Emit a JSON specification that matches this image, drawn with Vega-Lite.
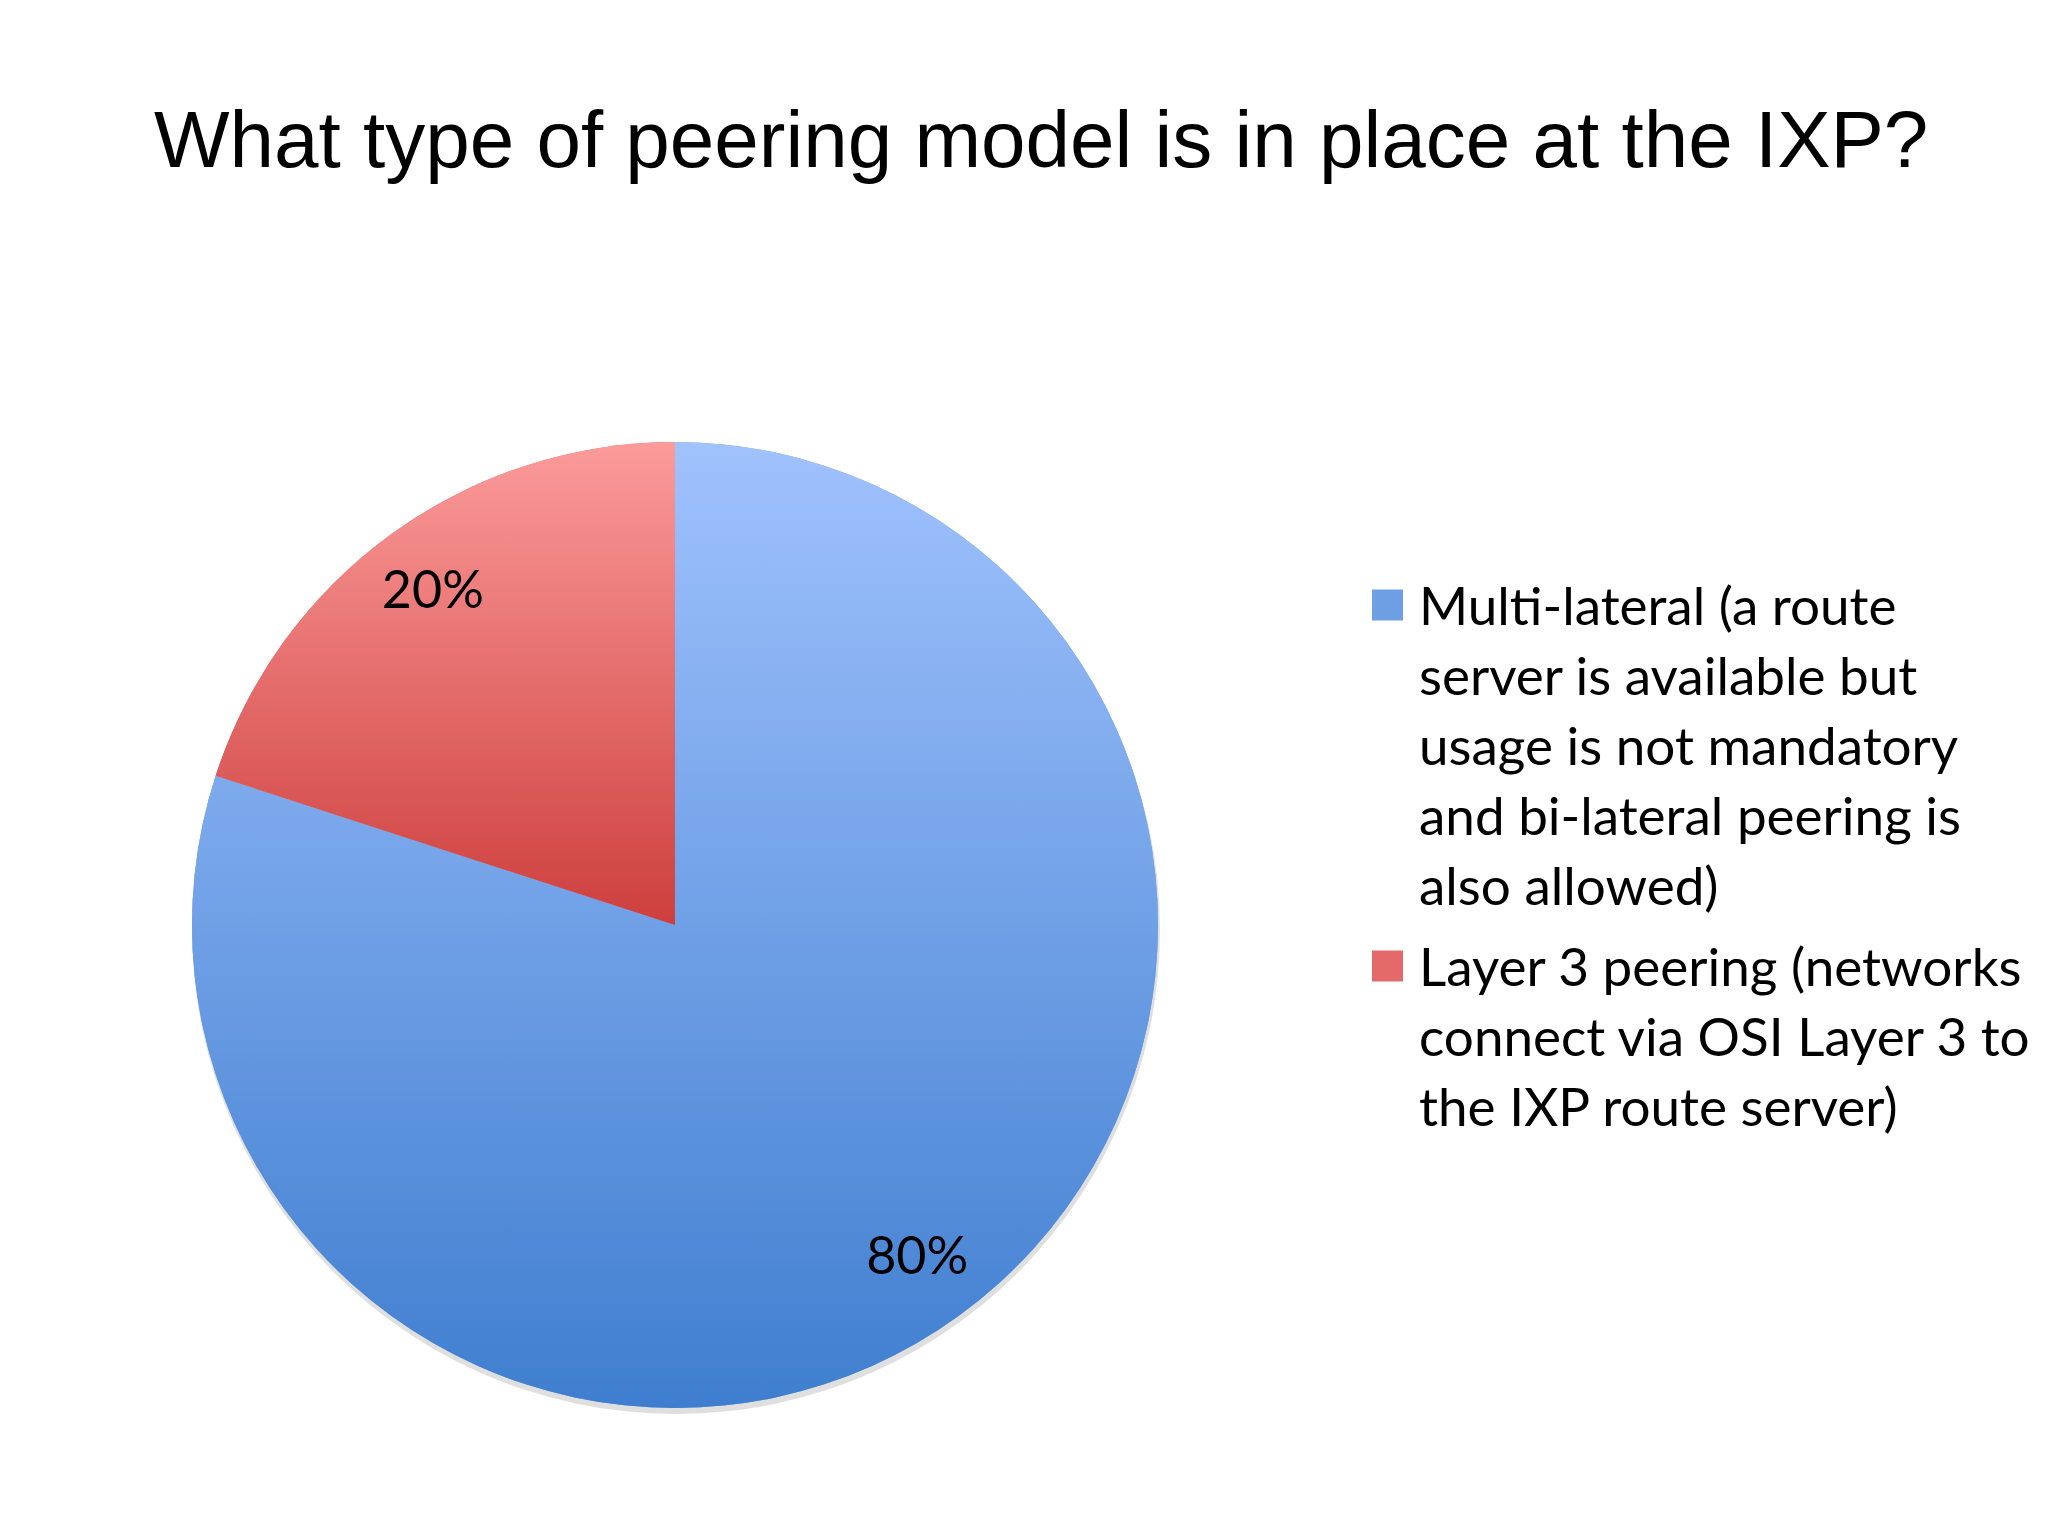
{
  "$schema": "https://vega.github.io/schema/vega-lite/v6.json",
  "width": 1350,
  "height": 1100,
  "autosize": {"type": "none"},
  "padding": {"left": 0, "top": 375, "right": 698, "bottom": 61},
  "background": "white",
  "title": {
    "text": "What type of peering model is in place at the IXP?",
    "anchor": "start",
    "frame": "group",
    "dx": 154,
    "offset": 128,
    "baseline": "alphabetic",
    "font": "Liberation Sans",
    "fontSize": 80,
    "fontWeight": "normal",
    "color": "black"
  },
  "data": {
    "values": [
      {"model": "Multi-lateral (a route server is available but usage is not mandatory and bi-lateral peering is also allowed)", "share": 0.8},
      {"model": "Layer 3 peering (networks connect via OSI Layer 3 to the IXP route server)", "share": 0.2}
    ]
  },
  "encoding": {
    "theta": {"field": "share", "type": "quantitative", "stack": true},
    "order": {"field": "share", "sort": "descending"}
  },
  "layer": [
    {
      "mark": {"type": "arc", "radius": 484, "xOffset": 1, "yOffset": 5, "fill": "#808080", "opacity": 0.25}
    },
    {
      "mark": {"type": "arc", "radius": 483},
      "encoding": {
        "color": {
          "field": "model",
          "type": "nominal",
          "scale": {
            "domain": [
              "Multi-lateral (a route server is available but usage is not mandatory and bi-lateral peering is also allowed)",
              "Layer 3 peering (networks connect via OSI Layer 3 to the IXP route server)"
            ],
            "range": ["#6e9fe5", "#e36a68"]
          },
          "legend": {
            "orient": "none",
            "legendX": 1361,
            "legendY": 208,
            "title": null,
            "padding": 0,
            "symbolType": "square",
            "symbolSize": 961,
            "symbolStrokeWidth": 0,
            "labelOffset": 5,
            "labelLimit": 0,
            "labelFont": "Lato",
            "labelFontSize": 53,
            "labelColor": "black",
            "rowPadding": 28,
            "labelExpr": "indexof(datum.label, 'Multi') == 0 ? ['Multi-lateral (a route', 'server is available but', 'usage is not mandatory', 'and bi-lateral peering is', 'also allowed)'] : ['Layer 3 peering (networks', 'connect via OSI Layer 3 to', 'the IXP route server)']",
            "encode": {
              "labels": {"update": {"baseline": {"value": "top"}, "y": {"value": 0}, "lineHeight": {"value": 70}}},
              "symbols": {"update": {"y": {"value": 22}}}
            }
          }
        }
      }
    },
    {
      "mark": {"type": "arc", "radius": 483},
      "encoding": {
        "fill": {
          "condition": {
            "test": "indexof(datum.model, 'Layer') == 0",
            "value": {"gradient": "linear", "x1": 0, "y1": 0, "x2": 0, "y2": 1, "stops": [{"offset": 0, "color": "#fb9b9a"}, {"offset": 1, "color": "#cd3f3d"}]}
          },
          "value": {"gradient": "linear", "x1": 0, "y1": 0, "x2": 0, "y2": 1, "stops": [{"offset": 0, "color": "#a0c2fd"}, {"offset": 1, "color": "#3f7ecf"}]}
        }
      }
    },
    {
      "mark": {"type": "text", "radius": 412, "font": "Lato", "fontSize": 52, "color": "black"},
      "encoding": {
        "text": {"field": "share", "type": "quantitative", "format": ".0%"}
      }
    }
  ]
}
